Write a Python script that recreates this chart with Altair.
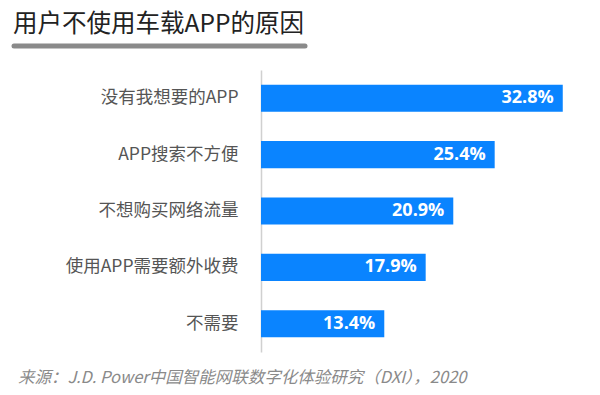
import altair as alt
import pandas as pd

categories = ["没有我想要的APP", "APP搜索不方便", "不想购买网络流量", "使用APP需要额外收费", "不需要"]
values = [32.8, 25.4, 20.9, 17.9, 13.4]
labels = ["32.8%", "25.4%", "20.9%", "17.9%", "13.4%"]

title_text = "用户不使用车载APP的原因"
source_text = "来源：J.D. Power中国智能网联数字化体验研究（DXI），2020"

df = pd.DataFrame({"reason": categories, "value": values, "label": labels})

FONT = "Noto Sans CJK SC"

x_enc = alt.X("value:Q", scale=alt.Scale(domain=[0, 35], nice=False), axis=None)
y_enc = alt.Y(
    "reason:N",
    sort=categories,
    scale=alt.Scale(paddingInner=0.52, paddingOuter=0.26),
    axis=alt.Axis(
        title=None, ticks=False, grid=False, domain=True, domainColor="#d0d0d0",
        domainWidth=1.5, labelPadding=23, labelFontSize=17.5, labelColor="#555555",
        labelFont=FONT,
    ),
)

bars = alt.Chart(df).mark_bar(color="#0A84FF").encode(x=x_enc, y=y_enc)

bar_text = alt.Chart(df).mark_text(
    align="right", baseline="middle", dx=-9, color="white", fontSize=18,
    fontWeight="bold", font="Open Sans",
).encode(x=x_enc, y=y_enc, text="label:N")

title = alt.Chart(pd.DataFrame({"t": [title_text]})).mark_text(
    align="left", baseline="middle", fontSize=24.5, font=FONT, color="#222222",
).encode(x=alt.value(-248), y=alt.value(-45), text="t:N")

underline = alt.Chart(pd.DataFrame({"a": [0]})).mark_rule(
    color="#8a8a8a", strokeWidth=5, strokeCap="round",
).encode(x=alt.value(-247), x2=alt.value(44), y=alt.value(-24))

source = alt.Chart(pd.DataFrame({"t": [source_text]})).mark_text(
    align="left", baseline="middle", fontSize=16.5, font=FONT, fontStyle="italic",
    color="#8a8a8a",
).encode(x=alt.value(-243), y=alt.value(308), text="t:N")

chart = alt.layer(bars, bar_text, title, underline, source).properties(
    width=322, height=282,
    autosize=alt.AutoSizeParams(type="none"),
    padding={"left": 253, "top": 62, "right": 5, "bottom": 40},
).configure_view(stroke=None)

chart.save("out.html", embed_options={"renderer": "svg", "actions": False})
